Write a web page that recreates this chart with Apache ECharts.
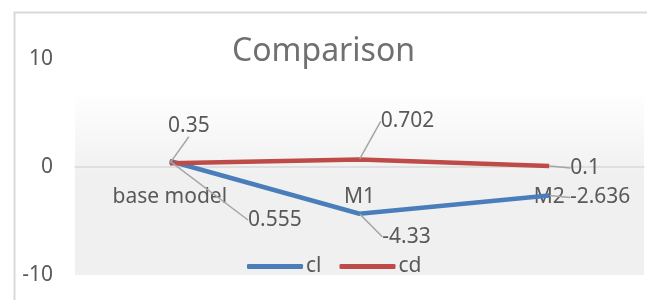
<!DOCTYPE html>
<html lang="en">
  <head>
    <meta charset="UTF-8" />
    <title>Comparison</title>
    <script src="https://cdn.jsdelivr.net/npm/echarts@6/dist/echarts.min.js"></script>
    <style>
      html, body { margin: 0; padding: 0; background: #fff; }
    </style>
  </head>
  <body>
    <div id="main" style="width: 647px; height: 300px"></div>
    <script>
      // 数据
      var categories = ["base model", "M1", "M2"];
      var clValues = [0.555, -4.33, -2.636];
      var cdValues = [0.35, 0.702, 0.1];
      var yTicks = [-10, 0, 10];

      var font = "Noto Sans";
      var textColor = "#595959";

      // 标签偏移 (相对于数据点)
      var clOffsets = [[105, 59], [47, 23], [51, 2]];
      var cdOffsets = [[19, -37], [48, -38], [36, 2]];

      var myChart = echarts.init(document.getElementById("main"));

      function labelFor(offsets) {
        return function (params) {
          var o = offsets[params.dataIndex];
          return { dx: o[0], dy: o[1] };
        };
      }

      var option = {
        animation: false,
        textStyle: { fontFamily: font },
        title: {
          text: "Comparison",
          left: "center",
          top: 31,
          textStyle: { fontFamily: font, fontSize: 32, fontWeight: "normal", color: "#707070" },
        },
        graphic: [
          {
            type: "rect",
            z: -10,
            shape: { x: 14.5, y: 12.5, width: 700, height: 400 },
            style: { fill: "none", stroke: "#d9d9d9", lineWidth: 2 },
          },
        ],
        legend: {
          left: 242,
          top: 251,
          itemWidth: 56,
          itemHeight: 5,
          itemGap: 18,
          icon: "roundRect",
          textStyle: { fontFamily: font, fontSize: 21, color: textColor, padding: [0, 0, 0, -2] },
          data: ["cl", "cd"],
        },
        grid: {
          left: 75,
          right: 3,
          top: 59,
          bottom: 25,
          containLabel: false,
          outerBoundsMode: "none",
          show: true,
          borderWidth: 0,
          backgroundColor: {
            type: "linear",
            x: 0, y: 0, x2: 0, y2: 1,
            colorStops: [
              { offset: 0, color: "#ffffff" },
              { offset: 0.15, color: "#ffffff" },
              { offset: 0.55, color: "#f0f0f0" },
              { offset: 1, color: "#f0f0f0" },
            ],
          },
        },
        xAxis: {
          type: "category",
          data: categories,
          boundaryGap: true,
          offset: -108, // 把轴移到 0 的位置
          axisLine: { onZero: false, lineStyle: { color: "#d9d9d9", width: 1.5 } },
          axisTick: { show: false },
          axisLabel: { fontFamily: font, fontSize: 21, color: textColor, margin: 20 },
        },
        yAxis: {
          type: "value",
          min: yTicks[0],
          max: yTicks[yTicks.length - 1],
          interval: 10,
          axisLine: { show: false },
          axisTick: { show: false },
          splitLine: { show: false },
          axisLabel: { fontFamily: font, fontSize: 21, color: textColor, margin: 22 },
        },
        series: [
          {
            name: "cl",
            type: "line",
            data: clValues,
            symbol: "circle",
            symbolSize: 1,
            showSymbol: true,
            lineStyle: { color: "#4a7ebb", width: 4.5 },
            itemStyle: { color: "#4a7ebb" },
            label: { show: true, position: "inside", fontSize: 21, color: textColor, fontFamily: font },
            labelLine: { show: true, lineStyle: { color: "#a6a6a6", width: 1.5 } },
            labelLayout: labelFor(clOffsets),
          },
          {
            name: "cd",
            type: "line",
            data: cdValues,
            symbol: "circle",
            symbolSize: 1,
            showSymbol: true,
            lineStyle: { color: "#be4b48", width: 4.5 },
            itemStyle: { color: "#be4b48" },
            label: { show: true, position: "inside", fontSize: 21, color: textColor, fontFamily: font },
            labelLine: { show: true, lineStyle: { color: "#a6a6a6", width: 1.5 } },
            labelLayout: labelFor(cdOffsets),
          },
        ],
      };
      myChart.setOption(option);
    </script>
  </body>
</html>
